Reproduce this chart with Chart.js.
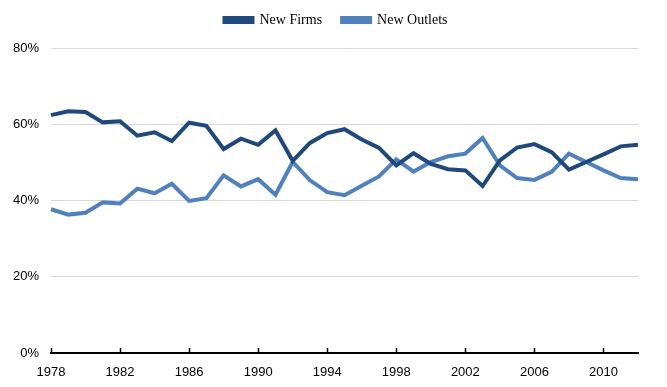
<!DOCTYPE html>
<html>
<head>
<meta charset="utf-8">
<script src="https://cdn.jsdelivr.net/npm/chart.js@4"></script>
<style>
  html, body { margin: 0; padding: 0; background: #fff; }
  #wrap { width: 667px; height: 387px; }
</style>
</head>
<body>
<div id="wrap"><canvas id="chart" width="667" height="387"></canvas></div>
<script>
const years = [];
for (let y = 1978; y <= 2012; y++) years.push(String(y));

// share of new entries, percent
const newFirms = [62.4, 63.4, 63.2, 60.5, 60.8, 57.0, 57.9, 55.6, 60.4, 59.6,
  53.5, 56.2, 54.6, 58.4, 50.4, 55.1, 57.7, 58.7, 56.0, 53.8,
  49.2, 52.4, 49.6, 48.2, 47.9, 43.8, 50.5, 53.9, 54.8, 52.7,
  48.1, 50.1, 52.1, 54.2, 54.6];
const newOutlets = [37.7, 36.3, 36.8, 39.5, 39.2, 43.1, 41.9, 44.4, 39.9, 40.6,
  46.6, 43.7, 45.6, 41.5, 50.1, 45.3, 42.2, 41.4, 43.9, 46.3,
  50.8, 47.6, 50.1, 51.6, 52.3, 56.4, 49.2, 45.9, 45.4, 47.5,
  52.3, 50.1, 47.9, 45.9, 45.6];

const yTicks = [0, 20, 40, 60, 80];

// tick marks sit above the axis line, like the original
const upTicks = {
  id: 'upTicks',
  afterDatasetsDraw(chart) {
    const x = chart.scales.x;
    const ctx = chart.ctx;
    const bottom = chart.chartArea.bottom;
    ctx.save();
    ctx.strokeStyle = '#000';
    ctx.lineWidth = 1.5;
    years.forEach((yr, i) => {
      if (i % 4 !== 0) return;
      const px = Math.round(x.getPixelForValue(i)) + 0.5;
      ctx.beginPath();
      ctx.moveTo(px, bottom);
      ctx.lineTo(px, bottom - 5);
      ctx.stroke();
    });
    ctx.restore();
  }
};

// more room under the legend, and centre it over the plot
const legendSpot = {
  id: 'legendSpot',
  afterInit(chart) {
    const lg = chart.legend;
    const fit = lg.fit;
    lg.fit = function () { fit.call(this); this.height += 11; };
  },
  afterLayout(chart) {
    chart.legend.left += 15;
    chart.legend.right += 15;
  }
};

new Chart(document.getElementById('chart'), {
  type: 'line',
  data: {
    labels: years,
    datasets: [
      { label: 'New Firms', data: newFirms, borderColor: '#1F497D', backgroundColor: '#1F497D',
        borderWidth: 4, pointRadius: 0, tension: 0 },
      { label: 'New Outlets', data: newOutlets, borderColor: '#4F81BD', backgroundColor: '#4F81BD',
        borderWidth: 4, pointRadius: 0, tension: 0 }
    ]
  },
  options: {
    responsive: false,
    animation: false,
    layout: { padding: { left: 4, right: 29, top: -7, bottom: 5 } },
    plugins: {
      tooltip: { enabled: false },
      legend: {
        position: 'top',
        labels: {
          boxWidth: 28,
          boxHeight: 4,
          padding: 20,
          color: '#000',
          font: { family: 'Liberation Serif', size: 14 }
        }
      }
    },
    scales: {
      x: {
        grid: { display: false },
        border: { display: true, color: '#000', width: 2 },
        ticks: {
          autoSkip: false,
          maxRotation: 0,
          padding: 4,
          color: '#000',
          font: { family: 'Liberation Sans', size: 13 },
          callback: (v, i) => (i % 4 === 0 ? years[i] : '')
        },
        afterFit: s => { s.height = 29; }
      },
      y: {
        min: 0,
        max: 80,
        afterBuildTicks: s => { s.ticks = yTicks.map(v => ({ value: v })); },
        grid: { color: '#d9d9d9', lineWidth: 1, drawTicks: false },
        border: { display: false },
        ticks: {
          padding: 12,
          color: '#000',
          font: { family: 'Liberation Sans', size: 13 },
          callback: v => v + '%'
        },
        afterFit: s => { s.width = 47; }
      }
    }
  },
  plugins: [upTicks, legendSpot]
});
</script>
</body>
</html>
